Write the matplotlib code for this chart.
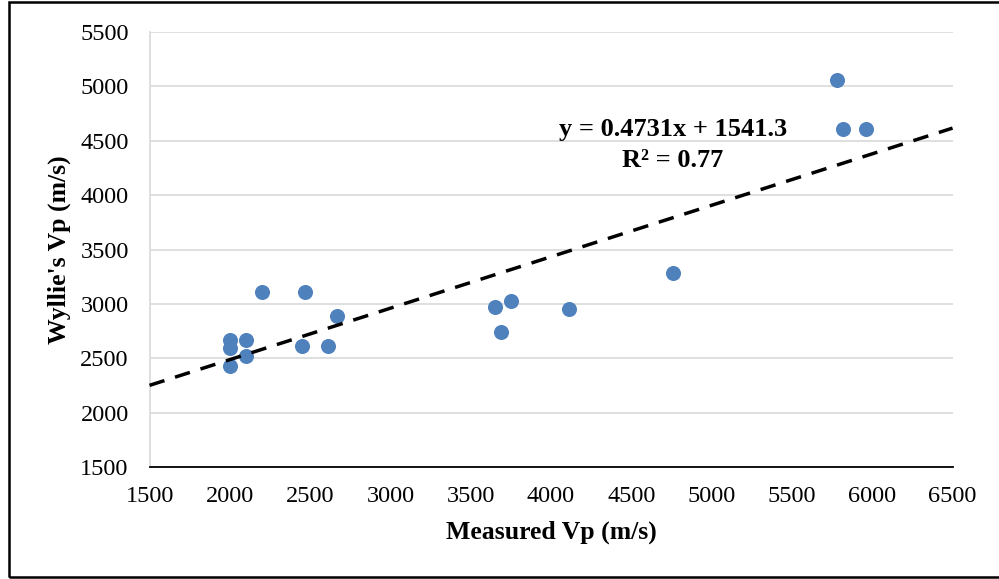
import matplotlib.pyplot as plt
from matplotlib.patches import Rectangle

# measured vs. Wyllie's Vp (m/s)
measured_vp = [2000, 2000, 2000, 2100, 2100, 2200, 2470, 2450, 2610, 2670,
               3650, 3750, 3690, 4110, 4760, 5780, 5820, 5960]
wyllie_vp = [2670, 2590, 2430, 2665, 2520, 3110, 3110, 2615, 2610, 2890,
             2970, 3030, 2745, 2955, 3285, 5060, 4610, 4610]

# trendline as printed on the chart
slope = 0.4731
intercept = 1541.3
r2 = 0.77

x_ticks = [1500, 2000, 2500, 3000, 3500, 4000, 4500, 5000, 5500, 6000, 6500]
y_ticks = [1500, 2000, 2500, 3000, 3500, 4000, 4500, 5000, 5500]

plt.rcParams['font.family'] = ['Liberation Serif', 'DejaVu Serif']

fig = plt.figure(figsize=(9.99, 5.79), dpi=100)
ax = fig.add_axes([0.1497, 0.1934, 0.8038, 0.7513])

ax.set_xlim(1500, 6500)
ax.set_ylim(1500, 5500)
ax.set_xticks(x_ticks)
ax.set_yticks(y_ticks)
ax.tick_params(length=0, labelsize=17.5)
ax.tick_params(axis='y', pad=15)
ax.tick_params(axis='x', pad=13.5)

ax.grid(axis='y', color='#D9D9D9', linewidth=1.2)
ax.set_axisbelow(True)
for s in ['top', 'right']:
    ax.spines[s].set_visible(False)
ax.spines['left'].set_color('#D9D9D9')
ax.spines['left'].set_linewidth(1.2)
ax.spines['bottom'].set_color('black')
ax.spines['bottom'].set_linewidth(1.3)

ax.scatter(measured_vp, wyllie_vp, s=117, color='#4F81BD', zorder=3, linewidths=0)

xl = [1500, 6500]
ax.plot(xl, [slope * v + intercept for v in xl], color='black', linewidth=2.5,
        dashes=(4.5, 3.2), zorder=4, clip_on=False)

# trendline label
ax.text(4760, 4542, f"y = {slope}x + {intercept}", ha='center', va='baseline',
        fontsize=19, fontweight='bold')
ax.text(4760, 4260, f"R² = {r2}", ha='center', va='baseline',
        fontsize=19, fontweight='bold')

ax.set_xlabel("Measured Vp (m/s)", fontsize=18.5, fontweight='bold')
ax.set_ylabel("Wyllie's Vp (m/s)", fontsize=18.5, fontweight='bold')
ax.yaxis.set_label_coords(-0.0978, 0.5)
ax.xaxis.set_label_coords(0.5, -0.124)

fig.patches.append(Rectangle((9 / 999, 2 / 579), 1.0, 575 / 579, transform=fig.transFigure,
                             fill=False, edgecolor='black', linewidth=1.8))

fig.savefig("out.png", dpi=100)
